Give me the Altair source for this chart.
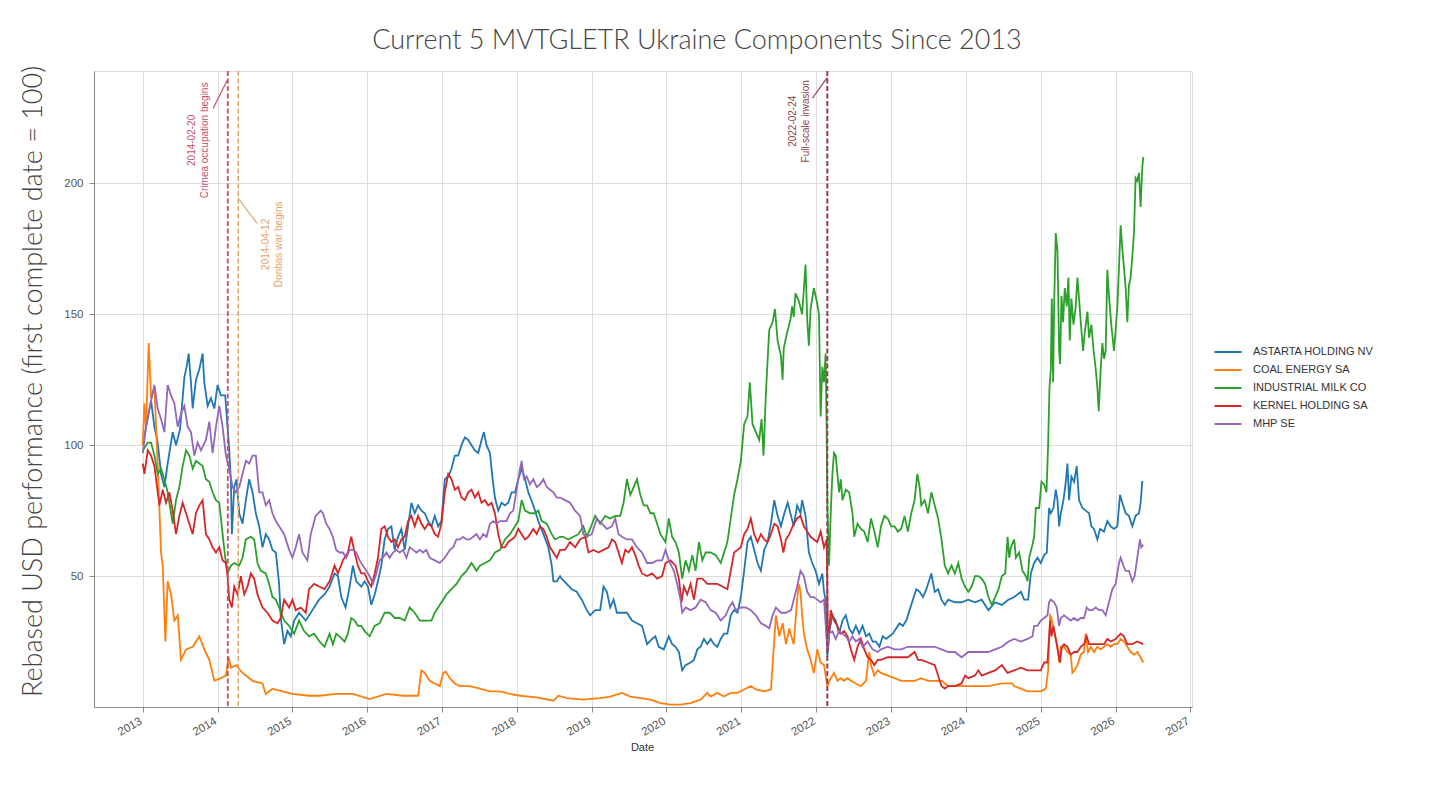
import altair as alt
import pandas as pd

SERIES = ["ASTARTA HOLDING NV", "COAL ENERGY SA", "INDUSTRIAL MILK CO", "KERNEL HOLDING SA", "MHP SE"]
COLORS = ["#1f77b4", "#ff7f0e", "#2ca02c", "#d62728", "#9467bd"]

# (decimal year, rebased value)
astarta = [
    (2013.000,100),(2013.044,107),(2013.111,117),(2013.156,107),(2013.200,101),(2013.244,89),(2013.289,84),(2013.333,93),
    (2013.400,105),(2013.444,100),(2013.498,106),(2013.556,126),(2013.587,130),(2013.613,135),(2013.644,124),(2013.667,114),
    (2013.711,125),(2013.756,129),(2013.800,135),(2013.822,124),(2013.867,115),(2013.911,118),(2013.956,114),(2014.000,123),
    (2014.044,119),(2014.102,119),(2014.133,107),(2014.156,98),(2014.178,86),(2014.191,66),(2014.222,84),(2014.253,87),
    (2014.289,74),(2014.333,70),(2014.378,79),(2014.422,87),(2014.467,82),(2014.511,74),(2014.556,69),(2014.600,61),
    (2014.644,66),(2014.689,64),(2014.733,60),(2014.778,59),(2014.822,47),(2014.844,34),(2014.889,24),(2014.933,29),
    (2014.978,27),(2015.022,33),(2015.089,36),(2015.178,33),(2015.267,37),(2015.356,41),
    (2015.429,43),(2015.496,46),(2015.563,51),(2015.608,50),(2015.652,42),(2015.710,38),(2015.764,46),(2015.808,54),
    (2015.853,48),(2015.920,46),(2015.965,48),(2016.009,46),(2016.054,39),(2016.099,43),(2016.143,48),(2016.188,54),
    (2016.232,64),(2016.277,68),(2016.322,69),(2016.366,60),(2016.411,65),(2016.456,68),(2016.500,60),(2016.545,69),
    (2016.590,78),(2016.634,74),(2016.679,77),(2016.724,75),(2016.768,74),(2016.813,71),(2016.858,69),(2016.902,73),
    (2016.947,69),(2016.991,71),(2017.036,87),(2017.081,88),(2017.125,91),(2017.170,96),(2017.215,96),(2017.259,100),
    (2017.304,103),(2017.349,102),(2017.393,100),(2017.438,98),(2017.483,97),(2017.527,102),(2017.558,105),(2017.594,100),
    (2017.639,97),(2017.675,87),(2017.706,80),(2017.750,75),(2017.795,78),(2017.840,77),(2017.884,78),(2017.929,82),
    (2017.974,82),(2018.018,87),(2018.063,91),(2018.108,87),(2018.152,82),(2018.219,77),(2018.286,71),(2018.353,66),
    (2018.420,61),(2018.465,54),(2018.487,48),(2018.532,48),(2018.576,50),
    (2018.598,49),(2018.665,47),(2018.732,45),(2018.799,44),(2018.866,41),(2018.933,37),(2018.978,35),(2019.045,37),
    (2019.112,37),(2019.157,46),(2019.202,44),(2019.246,38),(2019.291,41),(2019.336,36),(2019.403,36),(2019.470,36),
    (2019.537,33),(2019.604,32),(2019.671,31),(2019.739,24),(2019.806,26),(2019.850,27),(2019.895,23),(2019.962,22),
    (2020.029,27),(2020.074,24),(2020.119,23),(2020.164,21),(2020.208,14),(2020.253,16),(2020.320,17),(2020.365,18),
    (2020.410,22),(2020.454,23),(2020.499,26),(2020.544,24),(2020.589,26),(2020.633,24),(2020.678,23),(2020.723,26),
    (2020.768,28),(2020.812,28),(2020.857,35),(2020.902,37),(2020.947,36),(2020.992,42),(2021.036,52),(2021.081,63),
    (2021.125,65),(2021.170,60),(2021.215,55),(2021.260,52),(2021.304,60),(2021.349,63),(2021.394,70),(2021.439,79),
    (2021.483,73),(2021.528,69),(2021.573,74),(2021.618,78),(2021.663,73),
    (2021.699,69),(2021.744,77),(2021.789,74),(2021.811,79),(2021.856,73),(2021.901,59),(2021.946,55),(2021.991,52),
    (2022.036,47),(2022.081,51),(2022.103,44),(2022.125,41),(2022.148,19),(2022.170,28),(2022.215,35),(2022.260,33),
    (2022.305,28),(2022.350,33),(2022.394,35),(2022.439,30),(2022.484,28),(2022.529,31),(2022.574,28),(2022.619,31),
    (2022.664,27),(2022.708,28),(2022.753,25),(2022.798,25),(2022.843,23),(2022.888,27),(2022.933,26),(2022.978,27),
    (2023.022,28),(2023.067,30),(2023.112,32),(2023.157,31),(2023.202,33),(2023.247,37),(2023.291,41),(2023.336,45),
    (2023.381,44),(2023.426,42),(2023.471,45),(2023.516,49),(2023.538,51),(2023.583,44),(2023.628,45),(2023.673,41),
    (2023.717,39),(2023.762,41),(2023.852,40),(2023.942,40),(2024.031,41),(2024.121,40),(2024.211,41),(2024.300,37),
    (2024.390,40),(2024.480,39),(2024.570,41),
    (2024.645,42),(2024.734,44),(2024.778,41),(2024.831,41),(2024.867,51),(2024.911,55),(2024.956,57),(2025.000,55),
    (2025.045,58),(2025.080,59),(2025.111,76),(2025.134,74),(2025.169,76),(2025.200,83),(2025.223,79),(2025.245,69),
    (2025.267,74),(2025.303,79),(2025.334,86),(2025.356,93),(2025.378,79),(2025.409,88),(2025.445,86),(2025.480,92),
    (2025.511,79),(2025.556,76),(2025.600,75),(2025.645,74),(2025.676,69),(2025.711,68),(2025.756,64),(2025.791,68),
    (2025.845,67),(2025.889,71),(2025.934,69),(2025.978,68),(2026.023,69),(2026.058,81),(2026.089,78),(2026.134,74),
    (2026.178,73),(2026.223,69),(2026.267,73),(2026.312,74),(2026.334,78),(2026.356,86),(2026.369,86),
]

coal = [
    (2013.000,100),(2013.022,116),(2013.044,106),(2013.067,128),(2013.080,139),(2013.111,118),(2013.156,122),(2013.200,92),
    (2013.222,76),(2013.244,59),(2013.267,54),(2013.302,25),(2013.333,48),(2013.378,43),(2013.422,33),(2013.467,35),
    (2013.511,18),(2013.578,22),(2013.667,23),(2013.756,27),(2013.822,22),(2013.889,18),(2013.956,10),(2014.044,11),
    (2014.111,12),(2014.147,19),(2014.178,15),(2014.244,16),(2014.333,13),(2014.467,10),(2014.600,9),(2014.644,5),
    (2014.733,7),(2014.867,6),(2015.000,5),(2015.222,4.3),
    (2015.362,4.3),(2015.585,5),(2015.808,5),(2016.032,3),(2016.255,5),(2016.478,4.3),(2016.679,4.3),(2016.724,14),
    (2016.768,13),(2016.835,10),(2016.902,9),(2016.969,8),(2017.014,13),(2017.049,13.5),(2017.103,11),(2017.170,9),
    (2017.237,8),(2017.371,8),(2017.505,7),(2017.639,6),(2017.773,6),(2017.907,5),(2018.041,4.3),(2018.264,3.7),
    (2018.487,2.4),(2018.554,4.3),
    (2018.665,3.4),(2018.888,2.8),(2019.112,3.4),(2019.246,4),(2019.403,5.4),(2019.515,4),(2019.649,3.4),(2019.783,2.8),
    (2019.917,1.5),(2020.052,0.9),(2020.186,0.9),(2020.320,1.5),(2020.454,2.8),(2020.544,5.4),(2020.589,4),(2020.678,5.4),
    (2020.768,4),(2020.857,5.4),(2020.947,5.4),(2021.036,6.7),(2021.125,8),(2021.193,6.7),(2021.304,6),(2021.394,6.7),
    (2021.430,22),(2021.461,35),(2021.506,27),(2021.550,32),(2021.595,24),(2021.640,30),
    (2021.655,28),(2021.699,24),(2021.744,41),(2021.767,47),(2021.789,44),(2021.811,35),(2021.834,28),(2021.879,22),
    (2021.924,18),(2021.968,13),(2022.013,22),(2022.058,17),(2022.103,16),(2022.148,8),(2022.193,11),(2022.237,13),
    (2022.282,10),(2022.327,11),(2022.372,10),(2022.417,11),(2022.462,10),(2022.529,9),(2022.596,8),(2022.664,10),
    (2022.708,21),(2022.731,16),(2022.776,12),(2022.821,14),(2022.865,13),(2022.955,12),(2023.045,11),(2023.134,10),
    (2023.314,10),(2023.403,11),(2023.493,10),(2023.673,10),(2023.762,8),(2024.031,8),(2024.121,8),(2024.300,8),
    (2024.480,9),(2024.614,9),
    (2024.645,8),(2024.734,7),(2024.823,6),(2024.911,6),(2025.000,6),(2025.067,7),(2025.098,14),(2025.125,35),
    (2025.143,34),(2025.169,30),(2025.200,26),(2025.223,23),(2025.245,17),(2025.267,23),(2025.311,23),(2025.356,21),
    (2025.400,20),(2025.422,13),(2025.453,14),(2025.489,16),(2025.534,20),(2025.578,21),(2025.600,28),(2025.631,21),
    (2025.667,23),(2025.711,21),(2025.756,23),(2025.800,22),(2025.845,23),(2025.889,24),(2025.934,23),(2025.978,24),
    (2026.023,24),(2026.067,26),(2026.111,25),(2026.156,23),(2026.200,21),(2026.245,20),(2026.289,21),(2026.334,19),
    (2026.369,17),
]

imc = [
    (2013.000,98),(2013.067,101),(2013.111,101),(2013.156,96),(2013.200,89),(2013.244,91),(2013.289,87),(2013.333,82),
    (2013.378,74),(2013.400,70),(2013.444,79),(2013.489,84),(2013.533,92),(2013.578,98),(2013.622,96),(2013.667,91),
    (2013.711,94),(2013.756,93),(2013.800,92),(2013.844,87),(2013.889,86),(2013.933,82),(2013.978,79),(2014.022,78),
    (2014.067,66),(2014.102,57),(2014.133,51),(2014.178,54),(2014.222,55),(2014.289,54),(2014.333,57),(2014.378,64),
    (2014.444,65),(2014.489,64),(2014.533,55),(2014.578,52),(2014.644,51),(2014.689,47),(2014.733,42),(2014.778,41),
    (2014.822,38),(2014.889,33),(2014.956,31),(2015.022,28),(2015.089,33),(2015.156,29),(2015.222,27),(2015.289,28),
    (2015.362,25),(2015.429,23),(2015.496,28),(2015.540,24),(2015.585,28),(2015.630,27),(2015.697,25),(2015.741,28),
    (2015.786,34),(2015.831,33),(2015.875,31),(2015.920,31),(2015.965,29),(2016.032,27),(2016.099,31),(2016.166,32),
    (2016.232,36),(2016.300,36),(2016.366,34),(2016.433,34),(2016.500,33),(2016.567,38),(2016.634,36),(2016.701,33),
    (2016.790,33),(2016.858,33),(2016.902,36),(2016.947,38),(2017.014,41),(2017.058,43),(2017.125,45),(2017.192,47),
    (2017.259,50),(2017.326,52),(2017.393,55),(2017.460,52),(2017.505,54),(2017.572,55),(2017.639,56),(2017.706,59),
    (2017.773,60),(2017.840,64),(2017.907,66),(2017.974,69),(2018.018,71),(2018.063,79),(2018.108,75),(2018.175,74),
    (2018.241,74),(2018.286,75),(2018.331,71),(2018.398,70),(2018.465,66),(2018.509,64),(2018.576,65),
    (2018.620,65),(2018.687,64),(2018.754,65),(2018.821,66),(2018.888,69),(2018.933,65),(2018.978,68),(2019.045,73),
    (2019.112,70),(2019.179,73),(2019.246,72),(2019.313,73),(2019.381,73),(2019.425,78),(2019.470,87),(2019.515,81),
    (2019.560,84),(2019.604,87),(2019.649,81),(2019.694,77),(2019.739,77),(2019.783,74),(2019.828,74),(2019.873,70),
    (2019.917,66),(2019.985,63),(2020.029,72),(2020.074,65),(2020.119,63),(2020.164,59),(2020.208,49),(2020.253,56),
    (2020.298,52),(2020.343,58),(2020.387,52),(2020.432,63),(2020.477,56),(2020.522,59),(2020.589,59),(2020.656,58),
    (2020.723,55),(2020.768,59),(2020.812,63),(2020.857,72),(2020.902,81),(2020.947,87),(2020.992,94),(2021.036,108),
    (2021.081,111),(2021.112,124),(2021.148,108),(2021.193,105),(2021.237,102),(2021.269,110),(2021.295,96),(2021.327,120),
    (2021.371,144),(2021.416,147),(2021.448,152),(2021.483,140),(2021.528,134),(2021.550,125),
    (2021.565,137),(2021.610,143),(2021.655,148),(2021.677,153),(2021.699,149),(2021.722,158),(2021.767,155),(2021.811,150),
    (2021.856,169),(2021.879,148),(2021.901,138),(2021.924,152),(2021.968,160),(2022.013,154),(2022.036,150),(2022.058,111),
    (2022.081,130),(2022.103,124),(2022.125,135),(2022.139,105),(2022.148,77),(2022.170,54),(2022.193,74),(2022.215,89),
    (2022.237,97),(2022.260,96),(2022.282,89),(2022.305,82),(2022.327,87),(2022.350,79),(2022.394,83),(2022.439,82),
    (2022.484,74),(2022.507,65),(2022.551,70),(2022.596,68),(2022.641,67),(2022.686,63),(2022.731,72),(2022.776,67),
    (2022.821,61),(2022.865,69),(2022.910,73),(2022.955,72),(2023.000,69),(2023.045,69),(2023.090,67),(2023.134,68),
    (2023.179,73),(2023.224,67),(2023.269,74),(2023.314,79),(2023.350,89),(2023.381,84),(2023.403,77),(2023.448,79),
    (2023.493,74),(2023.538,82),(2023.583,77),(2023.628,72),(2023.673,64),(2023.717,54),(2023.762,51),(2023.807,54),
    (2023.852,51),(2023.897,55),(2023.942,49),(2023.987,46),(2024.031,44),(2024.076,46),(2024.121,50),(2024.166,50),
    (2024.211,49),(2024.256,47),(2024.300,42),(2024.345,39),(2024.390,42),(2024.435,45),(2024.480,50),(2024.525,51),
    (2024.556,65),(2024.578,57),(2024.600,61),(2024.645,64),(2024.667,57),(2024.711,59),(2024.756,52),(2024.800,50),
    (2024.823,48),(2024.845,57),(2024.889,62),(2024.911,65),(2024.934,76),(2024.978,76),(2025.009,86),(2025.045,85),
    (2025.076,82),(2025.098,100),(2025.116,122),(2025.134,129),(2025.147,156),(2025.165,124),(2025.178,153),(2025.200,181),
    (2025.223,174),(2025.245,136),(2025.258,131),(2025.276,157),(2025.298,147),(2025.320,160),(2025.347,153),(2025.369,164),
    (2025.387,140),(2025.409,156),(2025.436,146),(2025.467,153),(2025.489,164),(2025.511,156),(2025.534,147),(2025.565,136),
    (2025.587,143),(2025.623,151),(2025.645,141),(2025.676,146),(2025.703,137),(2025.734,129),(2025.756,122),(2025.774,113),
    (2025.800,129),(2025.823,139),(2025.845,133),(2025.867,136),(2025.889,167),(2025.911,157),(2025.942,146),(2025.978,136),
    (2026.000,144),(2026.023,153),(2026.045,168),(2026.067,184),(2026.089,175),(2026.111,168),(2026.134,160),(2026.156,147),
    (2026.178,161),(2026.200,164),(2026.223,172),(2026.245,181),(2026.267,202),(2026.289,201),(2026.312,204),(2026.334,191),
    (2026.356,206),(2026.369,210),
]

kernel = [
    (2013.000,93),(2013.022,89),(2013.067,98),(2013.111,96),(2013.156,92),(2013.200,82),(2013.222,77),(2013.267,83),
    (2013.311,78),(2013.356,82),(2013.400,75),(2013.444,66),(2013.489,73),(2013.533,78),(2013.578,74),(2013.622,70),
    (2013.667,66),(2013.711,74),(2013.756,77),(2013.800,79),(2013.844,66),(2013.889,64),(2013.933,61),(2013.978,59),
    (2014.022,61),(2014.067,56),(2014.111,55),(2014.133,50),(2014.156,41),(2014.191,38),(2014.222,46),(2014.267,43),
    (2014.311,50),(2014.356,43),(2014.400,46),(2014.444,51),(2014.489,49),(2014.533,43),(2014.600,38),(2014.667,36),
    (2014.733,33),(2014.800,32),(2014.844,34),(2014.889,41),(2014.956,38),(2015.000,41),(2015.044,37),(2015.111,38),
    (2015.178,36),(2015.222,45),(2015.289,47),(2015.356,46),
    (2015.429,45),(2015.496,48),(2015.563,54),(2015.608,51),(2015.674,56),(2015.741,59),(2015.786,65),(2015.831,59),
    (2015.875,54),(2015.920,51),(2015.965,51),(2016.009,48),(2016.054,46),(2016.099,51),(2016.143,57),(2016.188,68),
    (2016.232,69),(2016.277,65),(2016.322,63),(2016.366,64),(2016.411,61),(2016.456,64),(2016.500,65),(2016.545,71),
    (2016.590,73),(2016.634,69),(2016.679,73),(2016.724,70),(2016.768,68),(2016.813,70),(2016.858,69),(2016.902,66),
    (2016.947,65),(2016.991,70),(2017.036,82),(2017.081,89),(2017.125,87),(2017.170,83),(2017.215,84),(2017.259,80),
    (2017.304,79),(2017.349,82),(2017.393,83),(2017.438,80),(2017.483,82),(2017.527,78),(2017.572,79),(2017.616,77),
    (2017.661,78),(2017.706,74),(2017.750,66),(2017.795,61),(2017.840,61),(2017.884,63),(2017.929,64),(2017.974,65),
    (2018.018,68),(2018.063,66),(2018.108,64),(2018.152,65),(2018.219,68),(2018.264,66),(2018.309,69),(2018.353,68),
    (2018.398,65),(2018.442,61),(2018.487,59),(2018.532,57),(2018.576,60),
    (2018.642,60),(2018.709,63),(2018.777,61),(2018.844,64),(2018.911,65),(2018.956,59),(2019.023,60),(2019.090,59),
    (2019.157,60),(2019.224,61),(2019.269,64),(2019.313,63),(2019.358,59),(2019.403,55),(2019.448,60),(2019.492,59),
    (2019.537,61),(2019.582,58),(2019.627,54),(2019.671,51),(2019.739,50),(2019.806,51),(2019.873,49),(2019.940,50),
    (2019.985,55),(2020.052,56),(2020.119,54),(2020.164,49),(2020.199,40),(2020.231,46),(2020.275,43),(2020.320,47),
    (2020.365,41),(2020.410,49),(2020.477,49),(2020.544,47),(2020.611,47),(2020.678,47),(2020.745,46),(2020.812,45),
    (2020.857,52),(2020.902,59),(2020.947,60),(2020.992,61),(2021.036,66),(2021.081,68),(2021.125,72),(2021.170,66),
    (2021.215,63),(2021.260,66),(2021.304,64),(2021.349,63),(2021.394,66),(2021.439,70),(2021.483,69),(2021.528,64),
    (2021.560,59),(2021.595,64),(2021.640,66),
    (2021.699,70),(2021.744,72),(2021.789,73),(2021.834,69),(2021.879,67),(2021.924,65),(2021.968,64),(2022.013,63),
    (2022.058,67),(2022.103,61),(2022.139,64),(2022.157,22),(2022.193,37),(2022.237,33),(2022.282,31),(2022.327,28),
    (2022.372,29),(2022.417,27),(2022.462,22),(2022.507,18),(2022.551,23),(2022.596,26),(2022.641,22),(2022.686,19),
    (2022.731,18),(2022.776,16),(2022.821,18),(2022.865,18),(2022.955,19),(2023.045,19),(2023.134,19),(2023.224,19),
    (2023.314,21),(2023.359,18),(2023.403,18),(2023.493,17),(2023.583,16),(2023.628,12),(2023.673,8),(2023.717,7),
    (2023.762,8),(2023.852,8),(2023.942,9),(2023.987,12),(2024.031,11),(2024.121,12),(2024.166,14),(2024.211,12),
    (2024.300,13),(2024.390,14),(2024.480,16),
    (2024.556,13),(2024.645,14),(2024.734,15),(2024.823,14),(2024.911,14),(2025.000,14),(2025.045,17),(2025.089,17),
    (2025.125,33),(2025.143,27),(2025.169,31),(2025.200,26),(2025.231,21),(2025.258,17),(2025.280,23),(2025.311,24),
    (2025.356,23),(2025.400,20),(2025.445,21),(2025.489,21),(2025.534,23),(2025.578,24),(2025.614,27),(2025.645,24),
    (2025.711,24),(2025.778,24),(2025.845,24),(2025.889,26),(2025.934,25),(2026.000,26),(2026.067,28),(2026.111,27),
    (2026.156,24),(2026.223,24),(2026.289,25),(2026.369,24),
]

mhp = [
    (2013.000,97),(2013.044,107),(2013.111,117),(2013.156,123),(2013.200,114),(2013.244,110),(2013.289,105),(2013.333,123),
    (2013.378,119),(2013.422,116),(2013.467,107),(2013.511,112),(2013.556,115),(2013.600,107),(2013.644,105),(2013.689,96),
    (2013.733,101),(2013.778,98),(2013.844,102),(2013.889,109),(2013.933,97),(2013.978,107),(2014.022,115),(2014.067,107),
    (2014.111,96),(2014.156,91),(2014.200,84),(2014.244,82),(2014.289,84),(2014.333,89),(2014.378,94),(2014.422,93),
    (2014.467,96),(2014.511,96),(2014.556,82),(2014.600,82),(2014.644,77),(2014.689,79),(2014.733,74),(2014.778,71),
    (2014.822,69),(2014.889,66),(2014.956,60),(2015.000,57),(2015.044,61),(2015.089,66),(2015.133,59),(2015.200,56),
    (2015.244,66),(2015.311,73),(2015.378,75),
    (2015.407,74),(2015.451,70),(2015.496,68),(2015.540,65),(2015.585,60),(2015.630,59),(2015.674,59),(2015.719,57),
    (2015.764,60),(2015.808,60),(2015.853,59),(2015.898,56),(2015.942,54),(2015.987,52),(2016.032,50),(2016.076,47),
    (2016.121,51),(2016.166,56),(2016.210,57),(2016.255,59),(2016.300,57),(2016.344,59),(2016.389,60),(2016.433,59),
    (2016.478,60),(2016.523,57),(2016.567,61),(2016.612,60),(2016.657,59),(2016.701,60),(2016.746,59),(2016.790,60),
    (2016.835,57),(2016.902,56),(2016.969,55),(2017.036,57),(2017.103,60),(2017.148,61),(2017.192,64),(2017.237,64),
    (2017.282,65),(2017.326,64),(2017.371,64),(2017.415,65),(2017.460,66),(2017.505,64),(2017.550,66),(2017.594,65),
    (2017.639,70),(2017.683,71),(2017.728,70),(2017.773,71),(2017.817,71),(2017.862,71),(2017.907,74),(2017.951,75),
    (2017.996,83),(2018.041,91),(2018.063,94),(2018.094,87),(2018.130,88),(2018.175,85),(2018.219,87),(2018.264,84),
    (2018.309,85),(2018.353,87),(2018.398,84),(2018.442,83),(2018.487,82),(2018.532,80),(2018.576,80),
    (2018.642,79),(2018.709,78),(2018.777,75),(2018.844,73),(2018.888,66),(2018.933,65),(2019.000,66),(2019.067,72),
    (2019.135,70),(2019.202,68),(2019.269,69),(2019.313,72),(2019.358,66),(2019.403,65),(2019.470,64),(2019.537,64),
    (2019.604,61),(2019.671,59),(2019.739,55),(2019.806,55),(2019.873,56),(2019.940,56),(2019.985,60),(2020.029,56),
    (2020.097,52),(2020.141,47),(2020.186,41),(2020.208,36),(2020.253,38),(2020.320,37),(2020.387,38),(2020.454,41),
    (2020.522,40),(2020.589,37),(2020.656,36),(2020.723,33),(2020.790,35),(2020.835,38),(2020.880,40),(2020.924,37),
    (2020.992,38),(2021.059,38),(2021.125,37),(2021.193,35),(2021.260,32),(2021.327,31),(2021.371,30),(2021.416,35),
    (2021.461,38),(2021.528,36),(2021.595,36),(2021.663,37),
    (2021.699,41),(2021.744,46),(2021.789,52),(2021.834,50),(2021.879,44),(2021.924,42),(2021.968,42),(2022.013,41),
    (2022.058,40),(2022.103,41),(2022.148,22),(2022.170,28),(2022.215,29),(2022.260,26),(2022.305,29),(2022.350,28),
    (2022.394,27),(2022.439,25),(2022.484,27),(2022.529,25),(2022.574,26),(2022.619,23),(2022.686,25),(2022.753,22),
    (2022.821,21),(2022.865,22),(2022.955,23),(2023.045,22),(2023.134,22),(2023.224,23),(2023.314,23),(2023.493,23),
    (2023.583,23),(2023.673,22),(2023.762,21),(2023.852,21),(2023.942,19),(2024.031,21),(2024.211,21),(2024.300,21),
    (2024.390,22),(2024.480,23),(2024.570,25),
    (2024.645,26),(2024.734,25),(2024.823,26),(2024.889,27),(2024.911,31),(2024.956,31),(2025.000,33),(2025.045,34),
    (2025.089,35),(2025.111,40),(2025.134,41),(2025.178,40),(2025.214,38),(2025.245,31),(2025.267,34),(2025.311,35),
    (2025.356,34),(2025.400,33),(2025.445,34),(2025.489,33),(2025.534,34),(2025.578,34),(2025.614,38),(2025.645,37),
    (2025.689,37),(2025.734,38),(2025.778,37),(2025.823,37),(2025.867,35),(2025.911,40),(2025.956,45),(2026.000,47),
    (2026.045,55),(2026.067,57),(2026.103,54),(2026.134,52),(2026.178,52),(2026.223,48),(2026.254,50),(2026.289,57),
    (2026.325,64),(2026.343,61),(2026.369,62),
]

EVENT_DATES = ["2014-02-20", "2014-04-12", "2022-02-24"]
EVENT_LABELS = ["2014-02-20\nCrimea occupation begins", "2014-04-12\nDonbas war begins", "2022-02-24\nFull-scale invasion"]
EVENT_COLORS = ["#c44f69", "#e2a46e", "#8f3f4e"]
EVENT_WIDTHS = [1.8, 1.5, 2.0]
LABEL_YEARS = [2013.659, 2014.642, 2021.684]
LABEL_VALUES = [216.4, 176.7, 223.7]
CONNECTORS = [(2013.940, 228.6, 2014.127, 239.3), (2014.274, 194.3, 2014.528, 184.7), (2021.948, 232.5, 2022.148, 240.5)]

Y_TICKS = [50, 100, 150, 200]
X_TICK_YEARS = list(range(2013, 2028))


def to_date(yr):
    return pd.Timestamp("2013-01-01") + pd.to_timedelta((yr - 2013.0) * 365.25, unit="D")


rows = []
for name, pts in zip(SERIES, [astarta, coal, imc, kernel, mhp]):
    for t, v in pts:
        rows.append({"date": to_date(t), "value": v, "series": name})
df = pd.DataFrame(rows)

ev = pd.DataFrame({"date": pd.to_datetime(EVENT_DATES), "color": EVENT_COLORS, "w": EVENT_WIDTHS})
lab = pd.DataFrame({
    "date": [to_date(t) for t in LABEL_YEARS], "value": LABEL_VALUES,
    "label": EVENT_LABELS, "color": EVENT_COLORS,
})
con = pd.DataFrame({
    "d1": [to_date(c[0]) for c in CONNECTORS], "v1": [c[1] for c in CONNECTORS],
    "d2": [to_date(c[2]) for c in CONNECTORS], "v2": [c[3] for c in CONNECTORS],
    "color": EVENT_COLORS,
})

xscale = alt.Scale(domain=[alt.DateTime(year=2012, month=5, date=8), alt.DateTime(year=2027, month=1, date=9)], nice=False)
yscale = alt.Scale(domain=[0, 242.9], nice=False, zero=False)

xaxis = alt.Axis(
    values=[alt.DateTime(year=y, month=1, date=1) for y in X_TICK_YEARS], format="%Y",
    labelAngle=-30, labelAlign="right", labelBaseline="top", labelPadding=3, labelOffset=-5,
    labelFont="Liberation Sans", labelFontSize=11.5, labelColor="#555555", labelOverlap=False, labelFlush=False,
    title="Date", titleFont="Liberation Sans", titleFontSize=11, titleFontWeight="normal", titleColor="#333333",
    titleX=548, titleY=40, titleBaseline="middle", titleAlign="center",
)
yaxis = alt.Axis(
    values=Y_TICKS, labelPadding=6, labelFont="Liberation Sans", labelFontSize=11.5, labelColor="#555555",
    title="Rebased USD performance (first complete date = 100)", titleFont="Lato", titleFontSize=27,
    titleFontWeight=300, titleColor="#444444", titleX=-61, titleY=310, titleAngle=270,
    titleAlign="center", titleBaseline="middle",
)

lines = alt.Chart(df).mark_line(strokeWidth=1.8).encode(
    x=alt.X("date:T", scale=xscale, axis=xaxis),
    y=alt.Y("value:Q", scale=yscale, axis=yaxis),
    color=alt.Color("series:N", scale=alt.Scale(domain=SERIES, range=COLORS), legend=alt.Legend(
        title=None, orient="none", legendX=1119, legendY=272, symbolType="stroke", symbolSize=730,
        symbolStrokeWidth=2, clipHeight=18, rowPadding=0, padding=0, labelOffset=10,
        labelFont="Liberation Sans", labelFontSize=11, labelColor="#333333",
    )),
)

rules = alt.Chart(ev).mark_rule(strokeDash=[5, 2.5]).encode(
    x="date:T", color=alt.Color("color:N", scale=None), strokeWidth=alt.StrokeWidth("w:Q", scale=None),
)

texts = alt.Chart(lab).mark_text(
    angle=270, align="center", baseline="middle", fontSize=10, lineBreak="\n", lineHeight=13,
    font="Liberation Sans",
).encode(
    x="date:T", y="value:Q", text="label:N", color=alt.Color("color:N", scale=None),
)

conns = alt.Chart(con).mark_rule(strokeWidth=1.2).encode(
    x="d1:T", y="v1:Q", x2="d2:T", y2="v2:Q", color=alt.Color("color:N", scale=None),
)

chart = alt.layer(lines, rules, conns, texts).properties(
    width=1098, height=636,
    title=alt.Title(
        "Current 5 MVTGLETR Ukraine Components Since 2013", font="Lato", fontSize=27, fontWeight=300,
        color="#444444", anchor="middle", dx=54, dy=32, baseline="alphabetic", offset=21,
    ),
    padding={"left": 94, "top": 71, "right": 238, "bottom": 97},
    autosize=alt.AutoSizeParams(type="none"),
).configure_view(
    stroke="#dddddd", strokeWidth=1.5,
).configure_axis(
    grid=True, gridColor="#e2e2e2", gridWidth=1.3, domain=False, ticks=False,
).configure(background="white")

chart.save("out.html", embed_options={"renderer": "svg", "actions": False})
